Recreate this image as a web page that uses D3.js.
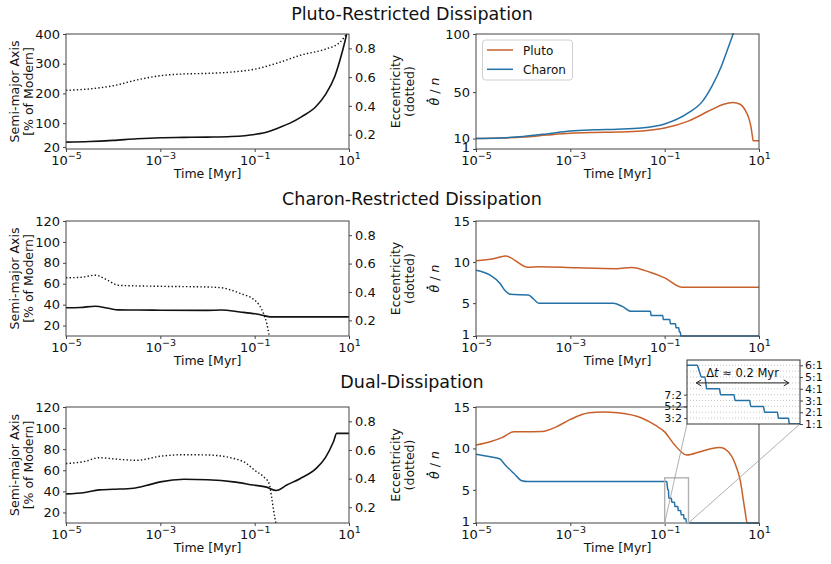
<!DOCTYPE html>
<html>
<head>
<meta charset="utf-8">
<script src="https://cdn.jsdelivr.net/npm/d3@7"></script>
<style>
body { margin: 0; background: #fff; }
svg text { font-family: "DejaVu Sans", sans-serif; fill: #111; }
</style>
</head>
<body>
<div id="chart"></div>
<script>
// ---- data (time stored as log10 of Myr) ----
var panelTitles = ["Pluto-Restricted Dissipation", "Charon-Restricted Dissipation", "Dual-Dissipation"];
var seriesNames = ["Pluto", "Charon"];
var timeTicks = [1e-5, 1e-3, 1e-1, 1e1];
var semiTicksTop = [20, 100, 200, 300, 400];
var semiTicks = [20, 40, 60, 80, 100, 120];
var eccTicks = [0.2, 0.4, 0.6, 0.8];
var spinTicksTop = [1, 10, 50, 100];
var spinTicks = [1, 5, 10, 15];
var insetLeftTicks = [1.5, 2.5, 3.5];
var insetLeftLabels = ["3:2", "5:2", "7:2"];
var insetRightTicks = [1, 2, 3, 4, 5, 6];
var insetRightLabels = ["1:1", "2:1", "3:1", "4:1", "5:1", "6:1"];
var insetGrid = [1.5, 2, 2.5, 3, 3.5, 4, 4.5, 5, 5.5, 6];
var insetTime = [0.1, 0.32];
var insetSpin = [1, 6.45];
var arrowTime = [0.11, 0.285];
var arrowLevel = 4.5;

// Pluto-restricted
var pr_semi = [[-5,36],[-4.5,38],[-4,42],[-3.5,47.5],[-3,51],[-2.5,52],[-2,53],[-1.5,55],[-1,62],[-0.7,72],[-0.5,84],[-0.25,100],[0,122],[0.3,156],[0.5,196],[0.7,258],[0.85,336],[0.95,400],[1,440]];
var pr_ecc = [[-5,0.508],[-4.5,0.518],[-4,0.54],[-3.5,0.58],[-3,0.61],[-2.5,0.622],[-2,0.626],[-1.5,0.635],[-1,0.655],[-0.5,0.70],[0,0.755],[0.5,0.795],[0.8,0.84],[0.95,0.9]];
var pr_pluto = [[-5,10],[-4.5,10.4],[-4,11.3],[-3.5,13],[-3,14.5],[-2.5,15.2],[-2,15.6],[-1.5,16.5],[-1,19],[-0.5,25],[0,35],[0.25,39.5],[0.45,41],[0.6,39.5],[0.7,35],[0.78,28],[0.83,20],[0.86,12],[0.875,8],[1,8]];
var pr_charon = [[-5,10],[-4.5,10.5],[-4,11.8],[-3.5,14],[-3,16.5],[-2.5,17.5],[-2,18],[-1.5,19],[-1,22.5],[-0.5,32],[-0.2,42],[0,55],[0.2,72],[0.3,83],[0.45,100],[0.5,106]];

// Charon-restricted
var cr_semi = [[-5,37],[-4.7,37.3],[-4.38,38.5],[-4.1,36.5],[-3.89,35],[-3.5,34.8],[-3,34.7],[-2,34.5],[-1.71,34.8],[-1.31,33],[-0.99,31.2],[-0.8,29.5],[-0.674,28.3],[1,28.3]];
var cr_ecc = [[-5,0.5],[-4.7,0.503],[-4.38,0.518],[-4.1,0.48],[-3.89,0.447],[-3,0.44],[-2,0.435],[-1.71,0.43],[-1.31,0.39],[-0.99,0.34],[-0.815,0.25],[-0.745,0.18],[-0.69,0.09]];
var cr_pluto = [[-5,10.17],[-4.63,10.4],[-4.38,10.75],[-3.89,9.36],[-3.67,9.44],[-2.87,9.3],[-2.02,9.2],[-1.7,9.35],[-1.31,8.76],[-1,8.08],[-0.64,6.95],[1,6.95]];
var cr_charon = [[-5,9],[-4.7,8.4],[-4.49,7.4],[-4.38,6.5],[-4.27,6.07],[-3.89,6.0],[-3.78,5.5],[-3.67,5.0],[-2.09,5],[-1.9,4.6],[-1.71,4.0],[-1.3,4.0],[-1.29,3.5],[-1.04,3.5],[-1.03,3.0],[-0.89,3.0],[-0.88,2.5],[-0.77,2.5],[-0.76,2.0],[-0.7,2.0],[-0.69,1.5],[-0.665,1.5],[-0.66,1],[1,1]];

// Dual-dissipation
var dd_semi = [[-5,37.6],[-4.6,39],[-4.3,41.4],[-4,42],[-3.57,43],[-3.3,45.5],[-3,49],[-2.5,51.5],[-2,51],[-1.45,49],[-1.03,46],[-0.75,44],[-0.54,40.8],[-0.32,46],[-0.04,52],[0.31,62],[0.5,72],[0.67,87],[0.74,95],[1,95]];
var dd_ecc = [[-5,0.505],[-4.6,0.52],[-4.3,0.546],[-4,0.538],[-3.5,0.528],[-3,0.556],[-2.5,0.567],[-2,0.565],[-1.5,0.545],[-1.17,0.505],[-1,0.458],[-0.8,0.41],[-0.695,0.366],[-0.64,0.27],[-0.6,0.18],[-0.55,0.09]];
var dd_pluto = [[-5,10.4],[-4.7,10.8],[-4.45,11.3],[-4.2,12.0],[-3.6,12.05],[-3.3,12.6],[-3,13.5],[-2.6,14.3],[-2.3,14.4],[-2,14.3],[-1.5,13.7],[-1.2,12.8],[-1,12.0],[-0.8,10.5],[-0.53,9.2],[-0.25,9.6],[0,10.0],[0.17,10.1],[0.35,9.6],[0.49,8.2],[0.6,6.2],[0.7,2.6],[0.75,1],[1,1]];
var dd_charon = [[-5,9.3],[-4.7,9.0],[-4.5,8.76],[-4.38,8.0],[-4.2,7.0],[-4.03,6.1],[-3.9,6.0],[-1,6.0],[-0.955,6],[-0.945,5.5],[-0.935,5],[-0.92,5],[-0.912,4],[-0.855,4],[-0.85,3.5],[-0.79,3.5],[-0.785,3],[-0.72,3],[-0.715,2.5],[-0.658,2.5],[-0.653,2],[-0.596,2],[-0.591,1.5],[-0.547,1.5],[-0.542,1],[1,1]];

// ---- layout ----
var width = 831, height = 564;
var colX = { left: [66, 349], right: [476, 759] };
var rowY = [[34, 149], [221, 336], [407, 523]];
var titleY = [20, 205, 388];
var plutoColor = "#c8602c", charonColor = "#2471a6", axisColor = "#444";

var svg = d3.select("#chart").append("svg")
    .attr("width", width)
    .attr("height", height);

var clipId = 0;
function makeClip(x0, y0, w, h) {
  var id = "clip" + (clipId++);
  svg.append("clipPath").attr("id", id)
    .append("rect").attr("x", x0).attr("y", y0).attr("width", w).attr("height", h);
  return "url(#" + id + ")";
}

function styleAxis(g, size) {
  g.select(".domain").remove();
  g.selectAll(".tick line").attr("stroke", axisColor);
  g.selectAll(".tick text").attr("font-size", size).attr("font-family", "DejaVu Sans").attr("fill", "#111");
  g.attr("font-family", null).attr("font-size", null);
}

function timeAxis(x, yPos) {
  var g = svg.append("g")
    .attr("transform", "translate(0," + yPos + ")")
    .call(d3.axisBottom(x).tickValues(timeTicks).tickSize(3).tickPadding(3).tickFormat(""));
  styleAxis(g, 13);
  g.selectAll(".tick text").each(function(d) {
    var t = d3.select(this);
    t.attr("dy", "0.74em");
    t.append("tspan").text("10");
    t.append("tspan").attr("dy", -5.5).attr("font-size", 9.5)
      .text(String(Math.round(Math.log10(d))).replace("-", "\u2212"));
  });
  return g;
}

function frame(x0, x1, y0, y1) {
  svg.append("rect").attr("x", x0).attr("y", y0)
    .attr("width", x1 - x0).attr("height", y1 - y0)
    .attr("fill", "none").attr("stroke", axisColor).attr("stroke-width", 1);
}

function xlabel(x0, x1, y1) {
  svg.append("text").attr("x", (x0 + x1) / 2).attr("y", y1 + 29)
    .attr("text-anchor", "middle").attr("font-size", 12.5).text("Time [Myr]");
}

function lineGen(x, y) {
  return d3.line()
    .x(function(d) { return x(Math.pow(10, d[0])); })
    .y(function(d) { return y(d[1]); })
    .curve(d3.curveMonotoneX);
}

function drawLeft(row, aDomain, aTicks, eDomain, semi, ecc) {
  var x0 = colX.left[0], x1 = colX.left[1], y0 = rowY[row][0], y1 = rowY[row][1];
  var x = d3.scaleLog().domain([1e-5, 1e1]).range([x0, x1]);
  var ya = d3.scaleLinear().domain(aDomain).range([y1, y0]);
  var ye = d3.scaleLinear().domain(eDomain).range([y1, y0]);
  var clip = makeClip(x0, y0, x1 - x0, y1 - y0);

  svg.append("path").datum(ecc).attr("clip-path", clip)
    .attr("d", lineGen(x, ye)).attr("fill", "none")
    .attr("stroke", "#111").attr("stroke-width", 1.4).attr("stroke-dasharray", "1.4,2.2");
  svg.append("path").datum(semi).attr("clip-path", clip)
    .attr("d", lineGen(x, ya)).attr("fill", "none")
    .attr("stroke", "#111").attr("stroke-width", 1.6);

  frame(x0, x1, y0, y1);
  timeAxis(x, y1);
  var gl = svg.append("g").attr("transform", "translate(" + x0 + ",0)")
    .call(d3.axisLeft(ya).tickValues(aTicks).tickSize(3).tickPadding(3));
  styleAxis(gl, 13);
  var gr = svg.append("g").attr("transform", "translate(" + x1 + ",0)")
    .call(d3.axisRight(ye).tickValues(eccTicks).tickSize(3).tickPadding(3).tickFormat(d3.format(".1f")));
  styleAxis(gr, 13);
  xlabel(x0, x1, y1);

  var cy = (y0 + y1) / 2;
  var lt = svg.append("text").attr("transform", "rotate(-90)")
    .attr("text-anchor", "middle").attr("font-size", 12.5);
  lt.append("tspan").attr("x", -cy).attr("y", 19).text("Semi-major Axis");
  lt.append("tspan").attr("x", -cy).attr("y", 33).text("[% of Modern]");
  var rt = svg.append("text").attr("transform", "rotate(-90)")
    .attr("text-anchor", "middle").attr("font-size", 12.5);
  rt.append("tspan").attr("x", -cy).attr("y", 400).text("Eccentricity");
  rt.append("tspan").attr("x", -cy).attr("y", 414).text("(dotted)");
}

function drawRight(row, sDomain, sTicks, pluto, charon) {
  var x0 = colX.right[0], x1 = colX.right[1], y0 = rowY[row][0], y1 = rowY[row][1];
  var x = d3.scaleLog().domain([1e-5, 1e1]).range([x0, x1]);
  var y = d3.scaleLinear().domain(sDomain).range([y1, y0]);
  var clip = makeClip(x0, y0 - 1, x1 - x0, y1 - y0 + 2);

  svg.append("path").datum(pluto).attr("clip-path", clip)
    .attr("d", lineGen(x, y)).attr("fill", "none")
    .attr("stroke", plutoColor).attr("stroke-width", 1.5);
  svg.append("path").datum(charon).attr("clip-path", clip)
    .attr("d", lineGen(x, y)).attr("fill", "none")
    .attr("stroke", charonColor).attr("stroke-width", 1.5);

  frame(x0, x1, y0, y1);
  timeAxis(x, y1);
  var gl = svg.append("g").attr("transform", "translate(" + x0 + ",0)")
    .call(d3.axisLeft(y).tickValues(sTicks).tickSize(3).tickPadding(3));
  styleAxis(gl, 13);
  // the lowest label sits a little above its tick, clear of the 10^-5 label
  gl.selectAll(".tick text").filter(function(d) { return d === sDomain[0]; }).attr("dy", "0.18em");
  xlabel(x0, x1, y1);

  // y label: theta-dot / n, the dot drawn over the theta glyph
  var cy = (y0 + y1) / 2;
  var lg = svg.append("g").attr("transform", "rotate(-90)");
  var lt = lg.append("text").attr("x", -cy).attr("y", 439)
    .attr("text-anchor", "middle").attr("font-size", 12.5);
  lt.append("tspan").attr("font-style", "italic").text("\u03b8");
  lt.append("tspan").text(" / ");
  lt.append("tspan").attr("font-style", "italic").text("n");
  var ext = lt.node().getExtentOfChar(0);
  lg.append("circle").attr("cx", ext.x + ext.width * 0.62).attr("cy", ext.y + 0.5).attr("r", 1.1)
    .attr("fill", "#111");
  return { x: x, y: y };
}

// ---- titles ----
panelTitles.forEach(function(t, i) {
  svg.append("text").attr("x", 412).attr("y", titleY[i])
    .attr("text-anchor", "middle").attr("font-size", 17.5).text(t);
});

// ---- panels ----
drawLeft(0, [13, 400], semiTicksTop, [0.1, 0.9], pr_semi, pr_ecc);
drawRight(0, [1, 100], spinTicksTop, pr_pluto, pr_charon);
drawLeft(1, [10, 120], semiTicks, [0.09, 0.9], cr_semi, cr_ecc);
drawRight(1, [1, 15], spinTicks, cr_pluto, cr_charon);
drawLeft(2, [10, 120], semiTicks, [0.09, 0.9], dd_semi, dd_ecc);
var dual = drawRight(2, [1, 15], spinTicks, dd_pluto, dd_charon);

// ---- legend (top right panel) ----
var leg = svg.append("g");
leg.append("rect").attr("x", 482.5).attr("y", 40).attr("width", 90).attr("height", 40)
  .attr("rx", 3).attr("fill", "#fff").attr("stroke", "#d0d0d0");
seriesNames.forEach(function(name, i) {
  var yy = 50 + i * 19.3;
  leg.append("line").attr("x1", 487).attr("x2", 513).attr("y1", yy).attr("y2", yy)
    .attr("stroke", i === 0 ? plutoColor : charonColor).attr("stroke-width", 1.5);
  leg.append("text").attr("x", 523).attr("y", yy + 4.5).attr("font-size", 12).text(name);
});

// ---- inset zoom of the dual-dissipation spin-down ----
var ix0 = 687, ix1 = 800, iy0 = 360, iy1 = 424;
var xi = d3.scaleLog().domain(insetTime).range([ix0, ix1]);
var yi = d3.scaleLinear().domain(insetSpin).range([iy1, iy0]);

// mark on the main panel
var mx0 = dual.x(insetTime[0]), mx1 = dual.x(insetTime[1]);
var my0 = dual.y(insetSpin[1]), my1 = dual.y(insetSpin[0]);
svg.append("rect").attr("x", mx0).attr("y", my0).attr("width", mx1 - mx0).attr("height", my1 - my0)
  .attr("fill", "none").attr("stroke", "#b0b0b0").attr("stroke-width", 1.4);
svg.append("line").attr("x1", mx0).attr("y1", my1).attr("x2", ix0).attr("y2", iy1)
  .attr("stroke", "#9a9a9a").attr("stroke-width", 0.8);
svg.append("line").attr("x1", mx1).attr("y1", my1).attr("x2", ix1).attr("y2", iy1)
  .attr("stroke", "#9a9a9a").attr("stroke-width", 0.8);

svg.append("rect").attr("x", ix0).attr("y", iy0).attr("width", ix1 - ix0).attr("height", iy1 - iy0)
  .attr("fill", "#fff");
svg.selectAll(".igrid").data(insetGrid).enter().append("line")
  .attr("x1", ix0).attr("x2", ix1)
  .attr("y1", function(d) { return yi(d); }).attr("y2", function(d) { return yi(d); })
  .attr("stroke", "#b8b8b8").attr("stroke-width", 0.8).attr("stroke-dasharray", "1,2");
var iclip = makeClip(ix0, iy0, ix1 - ix0, iy1 - iy0);
svg.append("path").datum(dd_charon).attr("clip-path", iclip)
  .attr("d", lineGen(xi, yi)).attr("fill", "none")
  .attr("stroke", charonColor).attr("stroke-width", 1.5);
svg.append("rect").attr("x", ix0).attr("y", iy0).attr("width", ix1 - ix0).attr("height", iy1 - iy0)
  .attr("fill", "none").attr("stroke", "#333").attr("stroke-width", 1);

var gil = svg.append("g").attr("transform", "translate(" + ix0 + ",0)")
  .call(d3.axisLeft(yi).tickValues(insetLeftTicks).tickSize(3).tickPadding(2)
    .tickFormat(function(d, i) { return insetLeftLabels[i]; }));
styleAxis(gil, 11);
var gir = svg.append("g").attr("transform", "translate(" + ix1 + ",0)")
  .call(d3.axisRight(yi).tickValues(insetRightTicks).tickSize(3).tickPadding(2)
    .tickFormat(function(d, i) { return insetRightLabels[i]; }));
styleAxis(gir, 11);

// Δt arrow
var ay = yi(arrowLevel);
var ax0 = xi(arrowTime[0]), ax1 = xi(arrowTime[1]);
svg.append("line").attr("x1", ax0).attr("x2", ax1).attr("y1", ay).attr("y2", ay)
  .attr("stroke", "#222").attr("stroke-width", 1);
svg.append("path").attr("d", "M" + (ax0 + 5) + "," + (ay - 3) + "L" + ax0 + "," + ay + "L" + (ax0 + 5) + "," + (ay + 3))
  .attr("fill", "none").attr("stroke", "#222").attr("stroke-width", 1);
svg.append("path").attr("d", "M" + (ax1 - 5) + "," + (ay - 3) + "L" + ax1 + "," + ay + "L" + (ax1 - 5) + "," + (ay + 3))
  .attr("fill", "none").attr("stroke", "#222").attr("stroke-width", 1);
var at = svg.append("text").attr("x", xi(Math.sqrt(arrowTime[0] * arrowTime[1])))
  .attr("y", ay - 6).attr("text-anchor", "middle").attr("font-size", 11.5);
at.append("tspan").text("\u0394");
at.append("tspan").attr("font-style", "italic").text("t");
at.append("tspan").text(" \u2248 0.2 Myr");
</script>
</body>
</html>
